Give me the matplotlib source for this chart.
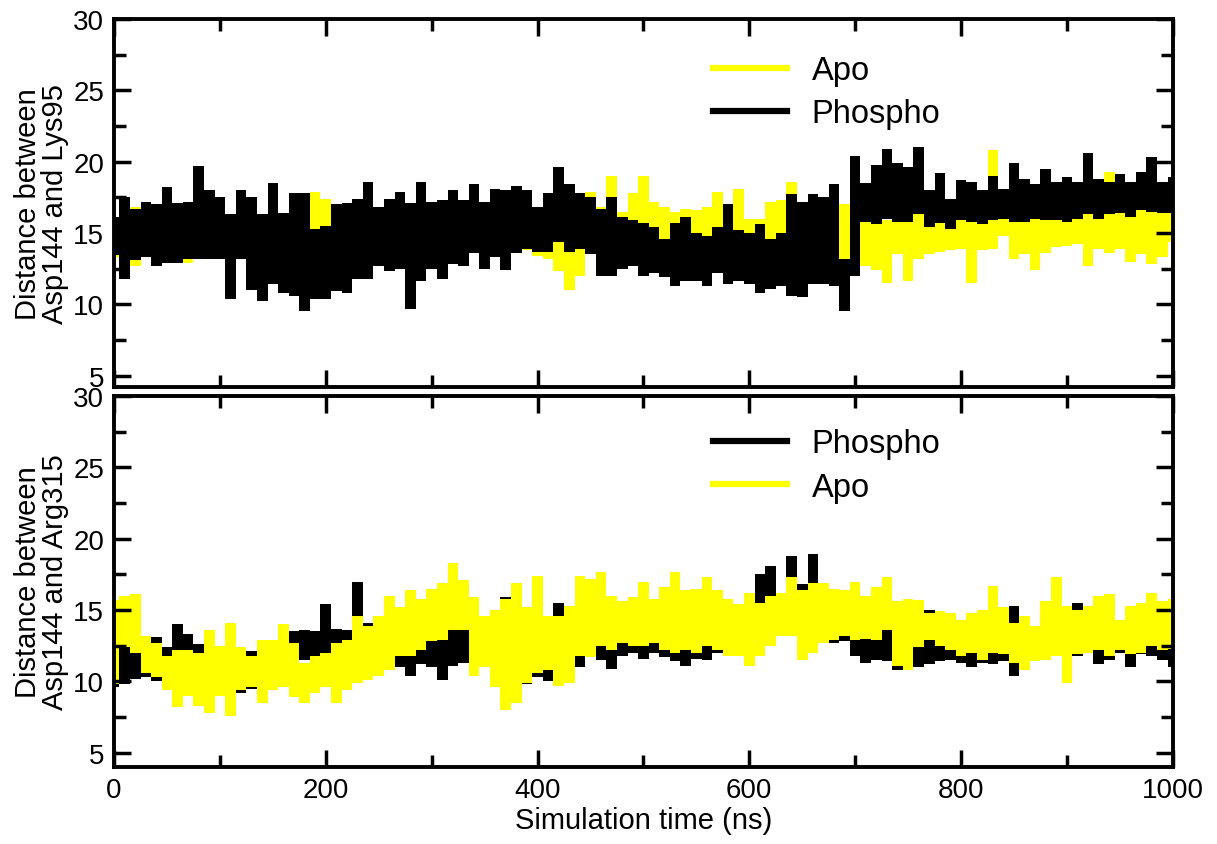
import numpy as np
import matplotlib
matplotlib.use("Agg")
import matplotlib.pyplot as plt
from matplotlib.lines import Line2D
from matplotlib.ticker import MultipleLocator

plt.rcParams["font.family"] = ["Liberation Sans", "DejaVu Sans"]

# ── Data: envelopes of the distance traces, read every 10 ns ─────────
time_ns = np.arange(0, 1001, 10)

# top panel: Asp144 - Lys95
top_phospho_hi = [16.1, 17.5, 16.7, 17.2, 17.0, 18.2, 17.1, 17.2, 19.7, 18.0, 17.5, 16.3, 18.0, 17.5,
                  16.3, 18.5, 16.4, 17.8, 17.8, 15.3, 15.5, 17.0, 17.1, 17.4, 18.6, 16.8, 17.4, 17.9,
                  17.1, 18.6, 17.2, 17.3, 18.0, 17.3,
                  18.4, 17.2, 18.1, 18.0, 18.3, 18.0, 16.8, 17.8, 19.6, 18.4, 17.8, 17.5, 16.7, 17.5,
                  16.1, 15.9, 15.7, 15.4, 14.6, 15.7, 16.1, 15.0, 14.8, 15.4, 17.0, 15.2, 15.0, 15.6,
                  14.6, 15.0, 17.7, 17.2, 17.7, 17.5,
                  18.4, 13.2, 20.4, 18.5, 19.8, 20.9, 19.9, 19.6, 21.0, 18.0, 19.2, 17.4, 18.7, 18.6,
                  18.0, 19.0, 18.1, 19.9, 18.8, 18.4, 19.5, 18.6, 18.9, 18.6, 20.6, 18.8, 18.6, 19.1,
                  18.6, 19.3, 20.3, 18.6, 18.9]
top_phospho_lo = [13.45, 11.8, 13.1, 13.3, 12.7, 12.9, 12.9, 13.2, 13.2, 13.2, 13.2, 10.4, 13.2, 11.0,
                  10.2, 11.4, 10.8, 10.6, 9.5, 10.4, 10.4, 10.9, 10.8, 11.8, 11.8, 12.7, 12.3, 12.5,
                  9.7, 11.6, 12.5, 11.8, 12.8, 12.7,
                  13.6, 12.5, 13.3, 12.4, 13.6, 13.9, 13.7, 13.7, 14.4, 13.7, 13.9, 13.5, 12.0, 12.0,
                  12.5, 12.7, 12.0, 12.2, 11.9, 11.3, 11.6, 11.6, 11.3, 12.2, 11.4, 11.6, 11.4, 10.8,
                  11.1, 11.3, 10.6, 10.5, 11.4, 11.4,
                  11.3, 9.5, 12.0, 15.8, 15.6, 16.0, 15.8, 15.8, 16.3, 15.4, 15.7, 15.3, 15.9, 15.8,
                  15.6, 15.9, 16.0, 15.8, 15.8, 16.0, 15.9, 15.9, 15.8, 16.0, 16.3, 16.0, 16.3, 16.4,
                  16.1, 16.6, 16.5, 16.4, 16.4]
top_apo_hi = [16.0, 17.2, 16.8, 17.0, 16.9, 17.0, 16.8, 17.1, 17.2, 16.9, 17.0, 16.0, 17.1, 16.8,
              16.2, 17.0, 16.2, 16.9, 17.2, 17.9, 17.4, 16.8, 17.0, 16.9, 17.1, 16.7, 16.9, 17.3,
              16.8, 17.0, 16.9, 17.1, 17.0, 16.8,
              17.0, 17.0, 17.2, 17.0, 17.2, 17.0, 16.8, 17.0, 17.0, 17.3, 17.0, 17.9, 16.8, 19.0,
              16.5, 17.8, 19.0, 17.2, 16.8, 16.5, 16.7, 16.6, 16.8, 17.9, 16.0, 18.1, 16.0, 16.0,
              17.2, 17.3, 18.6, 15.8, 16.8, 17.4,
              17.5, 17.0, 16.3, 16.2, 16.4, 15.9, 16.0, 16.2, 16.4, 16.5, 16.8, 16.4, 16.9, 16.6,
              16.8, 20.8, 16.7, 16.8, 16.5, 16.9, 16.6, 16.8, 16.8, 16.4, 16.8, 16.6, 19.3, 16.6,
              16.5, 16.7, 16.5, 16.6, 16.7]
top_apo_lo = [13.3, 13.0, 12.7, 13.4, 12.8, 13.2, 13.0, 12.9, 13.4, 13.2, 13.3, 13.5, 13.4, 13.6,
              13.5, 12.0, 13.4, 13.5, 13.8, 14.0, 13.9, 13.6, 13.5, 13.4, 13.2, 13.0, 12.8, 13.2,
              13.4, 12.9, 13.0, 13.3, 13.1, 13.4,
              13.8, 13.5, 13.6, 13.4, 13.6, 13.8, 13.4, 13.2, 12.3, 11.0, 12.0, 13.6, 13.8, 14.0,
              13.8, 13.6, 13.5, 13.7, 13.5, 13.4, 13.5, 13.4, 13.6, 13.5, 13.6, 13.7, 13.4, 13.5,
              13.8, 13.9, 14.0, 13.8, 13.7, 13.5,
              13.0, 13.2, 12.9, 12.7, 12.4, 11.5, 13.5, 11.6, 13.2, 13.5, 13.7, 13.8, 13.9, 11.5,
              13.8, 13.9, 14.8, 13.2, 13.5, 12.4, 13.6, 14.0, 14.1, 14.2, 12.7, 13.9, 13.6, 13.9,
              13.0, 13.5, 12.8, 13.3, 14.4]

# bottom panel: Asp144 - Arg315
bot_phospho_hi = [12.7, 12.5, 12.0, 11.8, 13.1, 12.4, 14.0, 13.3, 12.6, 13.5, 12.4, 12.0, 12.2, 12.1,
                  12.6, 12.5, 14.0, 13.5, 13.6, 13.5, 15.4, 13.7, 13.6, 17.0, 14.1, 14.2, 15.0, 13.7,
                  14.3, 13.4, 13.6, 13.9, 14.7, 14.0,
                  13.2, 14.0, 14.0, 15.9, 15.5, 11.8, 12.5, 12.4, 15.5, 14.6, 13.8, 14.0, 14.6, 13.0,
                  13.2, 13.5, 13.4, 13.6, 15.0, 14.5, 14.5, 14.3, 14.0, 13.6, 13.7, 14.2, 14.8, 17.5,
                  18.1, 16.0, 18.8, 16.8, 18.9, 15.8,
                  16.0, 15.8, 15.5, 14.5, 14.2, 15.3, 14.0, 14.0, 13.8, 15.0, 14.7, 13.6, 13.8, 14.8,
                  13.8, 13.5, 13.8, 15.3, 14.0, 13.5, 15.0, 14.4, 14.0, 15.5, 14.7, 14.2, 14.0, 14.3,
                  13.9, 14.2, 14.0, 13.9, 14.2]
bot_phospho_lo = [9.6, 9.8, 10.2, 10.3, 10.0, 9.9, 10.1, 9.0, 9.8, 10.0, 9.6, 9.2, 9.2, 9.5,
                  9.3, 10.3, 10.6, 10.4, 11.5, 11.5, 11.6, 11.5, 11.6, 11.5, 11.5, 11.8, 11.6, 11.0,
                  10.4, 11.2, 11.0, 10.1, 11.1, 11.3,
                  11.0, 11.5, 11.3, 11.8, 11.4, 9.8, 10.3, 10.0, 11.5, 12.0, 11.0, 11.8, 11.5, 10.9,
                  11.8, 12.0, 11.6, 12.0, 11.7, 11.4, 11.1, 11.6, 11.5, 12.0, 11.8, 12.2, 12.5, 14.3,
                  14.5, 13.8, 13.2, 13.2, 15.0, 13.6,
                  12.7, 12.8, 11.8, 11.3, 11.5, 11.4, 10.8, 11.5, 11.0, 11.2, 11.4, 11.5, 11.3, 11.0,
                  11.3, 11.2, 11.4, 10.4, 11.8, 11.6, 11.8, 11.8, 10.8, 11.8, 12.0, 11.2, 11.5, 12.0,
                  11.0, 11.9, 11.8, 11.5, 11.0]
bot_apo_hi = [15.7, 16.0, 16.1, 13.2, 12.7, 11.8, 12.2, 12.2, 12.0, 13.6, 12.5, 14.1, 12.4, 11.8,
              12.9, 12.9, 14.0, 12.7, 11.3, 11.8, 12.0, 12.7, 12.9, 14.6, 13.9, 14.6, 16.0, 15.2,
              16.4, 15.8, 16.5, 16.9, 18.3, 17.1,
              15.9, 14.6, 15.0, 15.8, 16.9, 15.2, 17.4, 14.6, 14.6, 15.3, 17.4, 17.2, 17.7, 16.0,
              15.6, 15.9, 17.0, 15.8, 16.6, 17.7, 16.4, 16.5, 17.3, 16.4, 15.8, 15.4, 16.2, 15.5,
              16.0, 16.2, 17.3, 16.4, 16.9, 16.9,
              16.5, 16.4, 17.0, 16.0, 16.6, 17.3, 15.6, 15.8, 15.7, 14.8, 14.9, 14.8, 14.3, 14.8,
              15.0, 16.7, 15.2, 14.1, 14.6, 13.9, 15.6, 17.3, 15.3, 15.0, 15.3, 16.0, 16.1, 14.3,
              15.3, 15.5, 16.2, 15.6, 15.8]
bot_apo_lo = [9.8, 12.4, 12.0, 10.6, 10.3, 9.4, 8.2, 9.0, 8.3, 7.8, 9.0, 7.6, 9.4, 9.6,
              8.5, 9.4, 9.6, 8.9, 8.5, 9.2, 9.6, 8.5, 9.4, 9.9, 10.1, 10.4, 10.8, 11.8,
              11.8, 12.2, 12.8, 12.9, 13.6, 13.6,
              10.4, 11.0, 9.6, 8.0, 8.5, 9.9, 10.6, 10.8, 9.7, 9.9, 11.8, 11.7, 12.5, 12.2,
              12.7, 12.5, 12.5, 12.7, 12.2, 12.0, 12.2, 12.0, 12.5, 12.2, 11.8, 11.8, 11.1, 11.8,
              12.5, 13.2, 13.2, 11.5, 12.0, 12.7,
              12.9, 13.2, 12.9, 13.0, 12.9, 13.6, 11.1, 10.8, 12.4, 12.9, 12.5, 12.2, 11.8, 12.0,
              11.5, 12.0, 11.9, 11.3, 10.8, 11.4, 11.5, 11.8, 9.9, 11.9, 12.0, 12.2, 11.8, 12.2,
              11.9, 12.0, 12.5, 12.2, 12.3]

YELLOW = "#ffff00"
BLACK = "#000000"

fig = plt.figure(figsize=(12.17, 8.45), dpi=100)
ax_top = fig.add_axes([0.0937, 0.5408, 0.870, 0.4355])
ax_bot = fig.add_axes([0.0937, 0.0911, 0.870, 0.4391])

# ── Top panel: Apo underneath, Phospho on top ────────────
ax_top.fill_between(time_ns, top_apo_lo, top_apo_hi, step="mid",
                    color=YELLOW, linewidth=0)
ax_top.fill_between(time_ns, top_phospho_lo, top_phospho_hi, step="mid",
                    color=BLACK, linewidth=0)

# ── Bottom panel: Phospho underneath, Apo on top ─────────
ax_bot.fill_between(time_ns, bot_phospho_lo, bot_phospho_hi, step="mid",
                    color=BLACK, linewidth=0)
ax_bot.fill_between(time_ns, bot_apo_lo, bot_apo_hi, step="mid",
                    color=YELLOW, linewidth=0)

for ax in (ax_top, ax_bot):
    ax.set_xlim(0, 1000)
    ax.xaxis.set_major_locator(MultipleLocator(200))
    ax.xaxis.set_minor_locator(MultipleLocator(100))
    ax.yaxis.set_major_locator(MultipleLocator(5))
    ax.yaxis.set_minor_locator(MultipleLocator(2.5))
    ax.tick_params(which="both", direction="in", top=True, right=True,
                   width=2.5, labelsize=20, pad=7)
    ax.tick_params(which="major", length=12)
    ax.tick_params(which="minor", length=8.5)
    for sp in ax.spines.values():
        sp.set_linewidth(2.8)

ax_top.set_ylim(4.2, 30)
ax_bot.set_ylim(4.0, 30)
ax_top.tick_params(labelbottom=False)

ax_top.set_ylabel("Distance between\nAsp144 and Lys95", fontsize=21,
                  linespacing=0.95, labelpad=3)
ax_bot.set_ylabel("Distance between\nAsp144 and Arg315", fontsize=21,
                  linespacing=0.95, labelpad=3)
ax_bot.set_xlabel("Simulation time (ns)", fontsize=21, labelpad=2)

# legends
leg_kw = dict(loc="upper left", frameon=False, fontsize=23.5, borderpad=0,
              borderaxespad=0, handlelength=2.27, handletextpad=0.74,
              labelspacing=0.38)
h_apo = Line2D([], [], color=YELLOW, lw=4.5)
h_pho = Line2D([], [], color=BLACK, lw=4.5)
ax_top.legend([h_apo, h_pho], ["Apo", "Phospho"],
              bbox_to_anchor=(0.566, 0.902), **leg_kw)
ax_bot.legend([h_pho, h_apo], ["Phospho", "Apo"],
              bbox_to_anchor=(0.566, 0.913), **leg_kw)

plt.savefig("out.png", dpi=100)
